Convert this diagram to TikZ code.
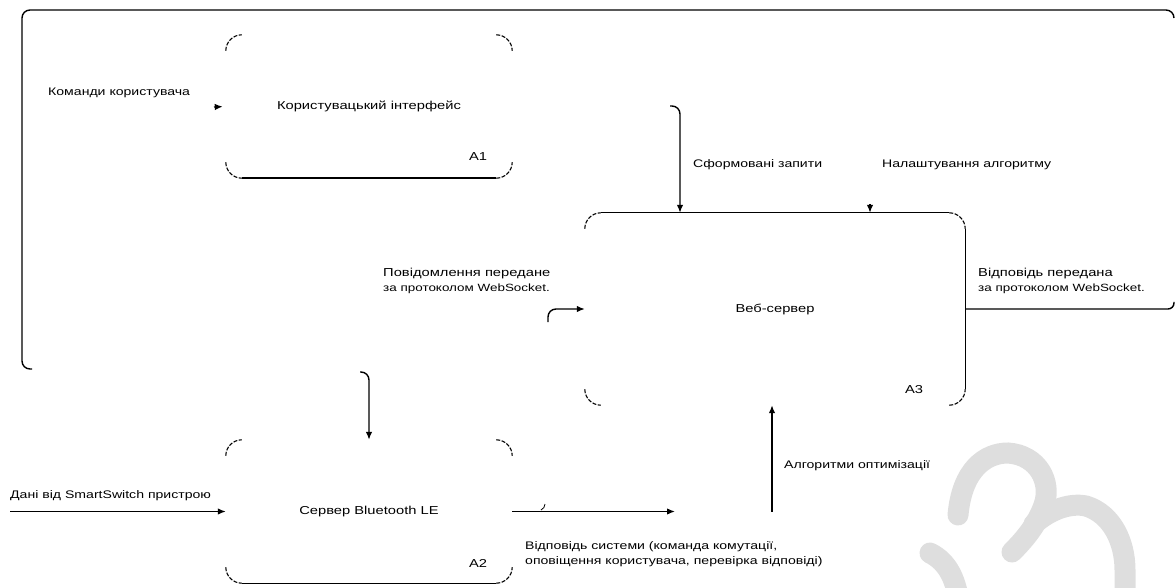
\documentclass[tikz,border=0pt]{standalone}
\usepackage{fontspec}
\setmainfont{Liberation Sans}[FakeStretch=1.28]
\usetikzlibrary{calc,arrows.meta}
\begin{document}
\begin{tikzpicture}[x=1pt,y=-1pt,
  edge/.style={line width=1.4pt, black},
  arr/.style={edge, -{Latex[length=8pt,width=6.5pt]}},
  cornerline/.style={line width=1.1pt, black, dash pattern=on 4pt off 1.5pt, rounded corners=16pt},
  procbox/.style={draw=none, minimum width=286pt, minimum height=143pt, inner sep=0pt, font=\fontsize{11.5}{14}\selectfont},
  lbl/.style={anchor=west, inner sep=0pt, align=left, font=\fontsize{11}{15}\selectfont},
  idx/.style={inner sep=0pt, font=\fontsize{11.5}{14}\selectfont},
  wm/.style={line width=21pt, color=black!13, line cap=round}]
\useasboundingbox (0,0) rectangle (1176,588);
% watermark
\begin{scope}
  \clip (0,0) rectangle (1176,588);
  \draw[wm] (958,515) .. controls (962,470) and (985,453) .. (1008,453)
            .. controls (1038,455) and (1052,482) .. (1044,505)
            .. controls (1037,525) and (1024,540) .. (1012,552);
  \draw[wm] (1034,524) .. controls (1052,508) and (1072,503) .. (1086,506)
            .. controls (1112,514) and (1125,542) .. (1125,570) -- (1125,610);
  \draw[wm] (930,553) .. controls (948,562) and (957,580) .. (960,610);
\end{scope}

% boxes
\node[procbox] (A1) at (369,106.5) {Користувацький інтерфейс};
\node[procbox] (A2) at (369,511.5) {Сервер Bluetooth LE};
\node[procbox, minimum width=380pt, minimum height=192pt] (A3) at (775,309) {Веб-сервер};

\foreach \b in {A1,A2,A3}{
  \draw[cornerline] ($(\b.north west)+(0,16)$) |- ($(\b.north west)+(16,0)$);
  \draw[cornerline] ($(\b.north east)+(-16,0)$) -| ($(\b.north east)+(0,16)$);
  \draw[cornerline] ($(\b.south west)+(0,-16)$) |- ($(\b.south west)+(16,0)$);
  \draw[cornerline] ($(\b.south east)+(-16,0)$) -| ($(\b.south east)+(0,-16)$);
}
\draw[edge] ($(A1.south west)+(16,0)$) -- ($(A1.south east)+(-16,0)$);
\draw[edge] ($(A2.south west)+(16,0)$) -- ($(A2.south east)+(-16,0)$);
\draw[edge] ($(A3.north west)+(16,0)$) -- ($(A3.north east)+(-16,0)$);
\draw[edge] ($(A3.north east)+(0,16)$) -- ($(A3.south east)+(0,-16)$);

\node[idx] (A1n) at (478,157) {A1};
\node[idx] (A2n) at (478,563) {A2};
\node[idx] (A3n) at (914,390) {A3};

% coordinates
\coordinate (cmdS) at (214,107);
\coordinate (oBL) at (32,369);
\coordinate (oTR) at (1174,18);
\coordinate (rE) at (1174,302);
\coordinate (dnS) at (360,372);
\coordinate (sfS) at (670,106);
\coordinate (sfC) at (680,106);
\coordinate (nlS) at (870,204);
\coordinate (pwS) at (548,322);
\coordinate (dataS) at (10,511.5);
\coordinate (respE) at (675,511.5);
\coordinate (algS) at (772,511.5);

% connectors
\draw[arr, shorten >=3pt] (cmdS) -- (A1.west);
\draw[edge, rounded corners=8pt] (oBL) -- (22,369) -- (22,10) -- (1174,10) -- (oTR);
\draw[edge, rounded corners=6pt] (A3.east) -- (A3.east -| rE) -- (rE);
\draw[arr, rounded corners=8pt] (dnS) -- (A2.north |- dnS) -- (A2.north);
\draw[arr, rounded corners=8pt] (sfS) -- (sfC) -- (sfC |- A3.north);
\draw[arr] (nlS) -- (nlS |- A3.north);
\draw[arr, rounded corners=8pt] (pwS) -- (pwS |- A3.west) -- (A3.west);
\draw[arr] (dataS) -- (A2.west);
\draw[arr] (A2.east) -- (respE);
\draw[edge, line width=0.8pt] (545,504) to[bend left=30] (541,510);
\draw[arr] (algS) -- (algS |- A3.south);

% labels
\node[lbl] (Lcmd) at (48,93) {Команди користувача};
\node[lbl] (Lsf) at (693,165) {Сформовані запити};
\node[lbl] (Lnl) at (882,165) {Налаштування алгоритму};
\node[lbl] (Lpw) at (383,281) {{\fontsize{11.5}{14}\selectfont Повідомлення передане}\\{\fontsize{10.5}{14}\selectfont за протоколом WebSocket.}};
\node[lbl] (Lrs) at (978,281) {{\fontsize{11.5}{14}\selectfont Відповідь передана}\\{\fontsize{10.5}{14}\selectfont за протоколом WebSocket.}};
\node[lbl] (Ldata) at (10,496) {Дані від SmartSwitch пристрою};
\node[lbl] (Lresp) at (525,554) {Відповідь системи (команда комутації,\\оповіщення користувача, перевірка відповіді)};
\node[lbl] (Lalg) at (784,466) {Алгоритми оптимізації};
\end{tikzpicture}
\end{document}
